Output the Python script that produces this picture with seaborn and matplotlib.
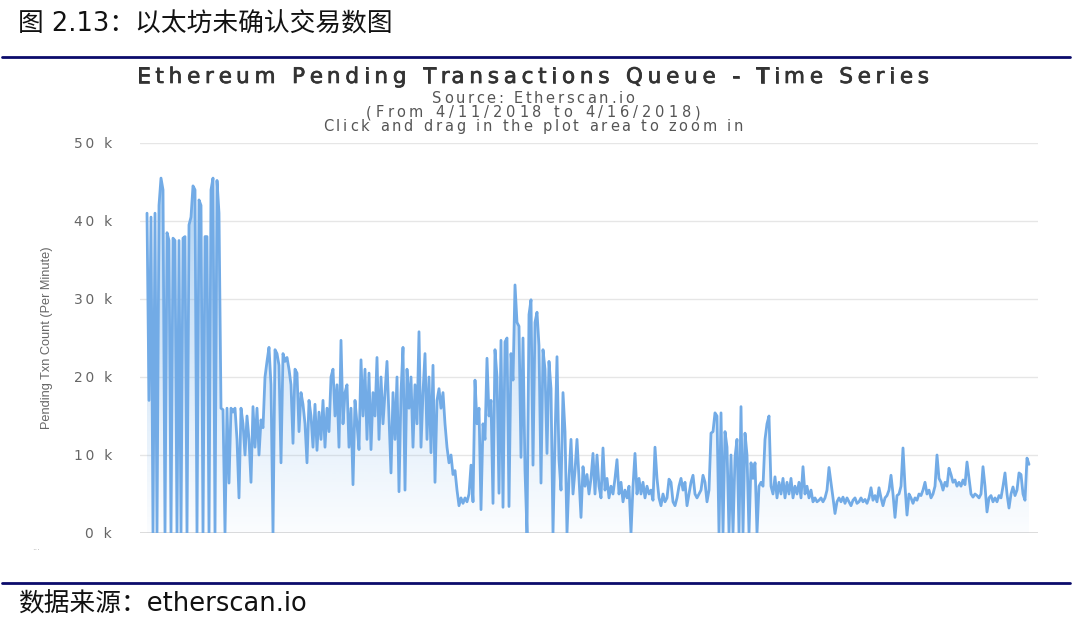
import numpy as np
import pandas as pd
import matplotlib
matplotlib.use("Agg")
import matplotlib.pyplot as plt
import matplotlib.patheffects as pe
from matplotlib.ticker import FuncFormatter, FixedLocator
from matplotlib.patches import PathPatch
from matplotlib.font_manager import FontProperties
import seaborn as sns

# ---------------- data (pending transactions, thousands) ----------------
title_text = "Ethereum Pending Transactions Queue - Time Series"
subtitle_lines = ["Source: Etherscan.io",
                  "(From 4/11/2018 to 4/16/2018)",
                  "Click and drag in the plot area to zoom in"]
y_label = "Pending Txn Count (Per Minute)"
y_ticks = [0, 10000, 20000, 30000, 40000, 50000]
header_text = "图 2.13：以太坊未确认交易数图"
footer_text = "数据来源：etherscan.io"

pending_k = [
    41, 17, 40.5, 0, 41, 0, 42, 45.5, 44, 0,
    38.5, 37.5, 0, 37.8, 37.5, 0, 37.5, 0, 37.8, 38,
    0, 39.5, 40.5, 44.5, 44, 0, 42.7, 42, 0, 38,
    38, 0, 44, 45.5, 0, 45.2, 41, 16, 15.8, 0,
    16, 6.4, 16, 15.5, 16, 12, 4.5, 16, 14, 10,
    15, 12, 6.5, 16.2, 11, 16, 10, 14.5, 13.5, 20,
    22, 23.8, 19, 0, 23.5, 23, 21.5, 9, 23, 22,
    22.5, 21, 19, 11.5, 21, 20.5, 13, 18, 16.5, 14,
    9, 17, 15, 11, 16.5, 10.6, 15.5, 12, 17, 11,
    16, 13, 20, 21, 15, 19, 11, 24.7, 14, 18,
    19, 11, 16, 6.2, 17, 14, 10.7, 22.2, 15, 21,
    12, 20.5, 10.7, 18, 15, 22.5, 12, 20, 14, 18,
    22, 15, 7.7, 18, 12, 20, 5.3, 18, 23.8, 5.5,
    21, 16, 20, 11, 19, 14, 25.8, 11, 18, 23,
    12, 20, 10.3, 21.5, 6.5, 17, 18.5, 16, 18, 14,
    11, 9, 10, 7.5, 8, 5.5, 3.5, 4.5, 3.8, 4.5,
    4, 5, 8.7, 4, 19.6, 14, 16, 3, 14, 12,
    22.4, 15, 17, 3.8, 23.5, 20, 5.1, 24.7, 3.3, 24.5,
    25, 3.4, 23, 19.6, 31.8, 27, 26.5, 9.7, 25, 8,
    0, 28, 29.9, 8.7, 27, 28.3, 24, 6.4, 23.5, 21,
    10.2, 22, 18.5, 0, 12, 22.6, 9.4, 5.5, 18, 13,
    0, 7, 12, 5, 8, 12, 7, 2, 8.5, 6,
    7.5, 5, 7, 10.2, 5, 10, 6, 4.5, 10.9, 5.5,
    7, 4.5, 6, 5, 7, 9.4, 5, 6.5, 4, 5.5,
    4.5, 6, 0, 6, 10.2, 5, 7, 5, 6.5, 4.5,
    6, 5, 5.5, 4.2, 11, 7, 4.5, 3.5, 5, 4,
    4.5, 6.9, 6.5, 4, 3.5, 4.5, 6, 7, 5.5, 6.5,
    3.5, 5, 6.5, 7.4, 5, 4.5, 5, 5.5, 7.4, 6.5,
    4, 5.5, 12.8, 13, 15.4, 15, 0, 15.4, 0, 13,
    11, 0, 10, 0, 9.7, 12, 0, 16.2, 0, 12.8,
    10, 0, 9, 7, 9, 0, 6, 6.5, 6, 12,
    14, 15, 6, 5, 7.2, 4.5, 6.5, 5, 7, 4.5,
    6.5, 5, 7, 4.5, 6, 5, 6.5, 4.5, 8.5, 5,
    6, 4.5, 5.5, 4, 4.5, 4, 4.2, 4.5, 4, 4.5,
    5.5, 8.4, 6.5, 4.5, 2.5, 4, 4.5, 4, 4.6, 3.8,
    4.5, 4, 3.5, 4.2, 4.5, 3.8, 4, 4.5, 4, 4.3,
    3.8, 4.5, 5.8, 4.2, 4.8, 4, 5.8, 4.5, 3.5, 4.5,
    4.8, 5.5, 7.4, 5, 2, 4.8, 5, 6, 10.9, 6,
    2.3, 5, 4.5, 3.8, 4.5, 4.2, 5, 4.8, 5.5, 6.5,
    5, 5.5, 4.5, 5, 6, 10, 7, 6.5, 5.5, 6.5,
    6, 8.3, 7.5, 6.5, 6.8, 6, 6.5, 6, 6.8, 6.2,
    9.1, 7, 5, 4.6, 5, 4.8, 4.5, 5, 8.5, 6,
    2.7, 4.5, 4.8, 4, 4.5, 4, 4.8, 4.5, 6, 7.7,
    5, 3.2, 5, 5.9, 4.8, 5.5, 7.7, 7.5, 5, 4.2,
    9.6, 8.8,
]

df = pd.DataFrame({"minute_idx": np.arange(len(pending_k)),
                   "pending": np.array(pending_k) * 1000.0})

# ---------------- style ----------------
sns.set_style("white")
plt.rcParams["font.family"] = ["DejaVu Sans", "Noto Sans CJK SC"]

W, H = 1074, 621
fig = plt.figure(figsize=(W / 100, H / 100), dpi=100)
fig.patch.set_facecolor("white")
renderer = fig.canvas.get_renderer()

left, right, top, bottom = 140, 1038, 143, 533
ax = fig.add_axes([left / W, 1 - bottom / H, (right - left) / W, (bottom - top) / H])

line_color = "#72abe6"
sns.lineplot(data=df, x="minute_idx", y="pending", ax=ax, color=line_color,
             linewidth=2.0, zorder=3, estimator=None)

n = len(df)
xlo, xhi = -3.5, n - 1 + 4.5

# gradient area fill
poly = ax.fill_between(df["minute_idx"], df["pending"], 0, facecolor="none",
                       edgecolor="none")
g = np.linspace(0, 1, 256)
rgba = np.zeros((256, 1, 4))
rgba[..., 0] = 124 / 255
rgba[..., 1] = 181 / 255
rgba[..., 2] = 236 / 255
rgba[:, 0, 3] = 0.03 + 0.62 * g
img = ax.imshow(rgba, extent=[xlo, xhi, 0, 50000], origin="lower",
                aspect="auto", zorder=2, interpolation="bilinear")
patch = PathPatch(poly.get_paths()[0], transform=ax.transData,
                  facecolor="none", edgecolor="none")
ax.add_patch(patch)
img.set_clip_path(patch)
ax.set_xlim(xlo, xhi)
ax.set_ylim(0, 50000)

# grid & axes
THIN = "\u2009"
ax.yaxis.set_major_locator(FixedLocator(y_ticks))
ax.yaxis.set_major_formatter(
    FuncFormatter(lambda v, p: THIN.join(list(f"{int(v / 1000)} k"))))
ax.grid(axis="y", color="#e6e6e6", linewidth=1.0, zorder=0)
ax.grid(axis="x", visible=False)
for s in ax.spines.values():
    s.set_visible(False)
ax.axhline(0, color="#d6d6d6", linewidth=1.2, zorder=1)
ax.set_xticks([])
ax.set_xlabel("")
ax.tick_params(axis="y", length=0, pad=20, labelsize=10, labelcolor="#666666")
ax.set_ylabel(y_label, fontsize=9.2, color="#666666", va="center",
              family=["Liberation Sans Narrow", "Liberation Sans", "DejaVu Sans"])
ax.yaxis.set_label_coords((47 - left) / (right - left), 0.5)


def spaced_text(xc_px, yc_px, s, size, target_w, color, **kw):
    fp = FontProperties(family="DejaVu Sans", size=size)
    ref_w = renderer.get_text_width_height_descent("l", fp, ismath=False)[0]
    full_w = renderer.get_text_width_height_descent(s, fp, ismath=False)[0]
    gap = (target_w - full_w) / max(len(s) - 1, 1)
    x0 = xc_px - target_w / 2
    for i, ch in enumerate(s):
        if ch == " ":
            continue
        pre = renderer.get_text_width_height_descent(s[:i] + "l", fp, ismath=False)[0] - ref_w
        fig.text((x0 + pre + i * gap) / W, 1 - yc_px / H, ch, ha="left",
                 va="center_baseline", fontproperties=fp, color=color, **kw)


# titles (letter-spaced like the original)
spaced_text(533, 75, title_text, 15.5, 792, "#333333",
            path_effects=[pe.withStroke(linewidth=0.5, foreground="#333333")])
sub_widths = [202, 335, 420]
for i, t in enumerate(subtitle_lines):
    spaced_text(533, 97 + 14 * i, t, 10.5, sub_widths[i], "#555555")

# header / footer
fig.text(18 / W, 1 - 24.5 / H, header_text, ha="left", va="center", fontsize=18.5,
         color="#111111", family=["DejaVu Sans", "Noto Sans CJK SC"])
fig.text(18 / W, 1 - 605 / H, footer_text, ha="left", va="center", fontsize=18.5,
         color="#111111", family=["DejaVu Sans", "Noto Sans CJK SC"])
fig.add_artist(plt.Line2D([2 / W, 1070 / W], [1 - 57 / H, 1 - 57 / H],
                          color="#0b0b6b", linewidth=2.0))
fig.add_artist(plt.Line2D([2 / W, 1070 / W], [1 - 583 / H, 1 - 583 / H],
                          color="#0b0b6b", linewidth=2.0))
fig.text(32 / W, 1 - 548 / H, "...", fontsize=6, color="#aaaaaa", ha="left", va="center")

fig.savefig("out.png", dpi=100, facecolor="white")
